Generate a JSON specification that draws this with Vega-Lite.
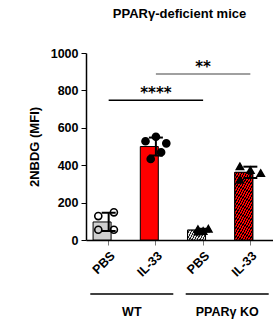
{
  "$schema": "https://vega.github.io/schema/vega-lite/v6.json",
  "padding": {"left": 28, "top": 8, "right": 0, "bottom": 0},
  "config": {
    "view": {"stroke": null},
    "font": "Liberation Sans",
    "axis": {"labelFont": "Liberation Sans", "labelFontWeight": "bold", "labelFontSize": 12.5, "labelColor": "black", "titleFont": "Liberation Sans", "titleFontWeight": "bold", "titleFontSize": 13, "titleColor": "black", "domainColor": "black", "domainWidth": 1.5, "tickColor": "black", "grid": false, "labelOverlap": false},
    "axisY": {"tickSize": 5, "labelPadding": 3, "titlePadding": 9, "values": [0, 200, 400, 600, 800, 1000], "format": "d"}
  },
  "datasets": {
    "pts": [
      {"group": "WT PBS", "geno": "WT", "slot": 1, "value": 128},
      {"group": "WT PBS", "geno": "WT", "slot": 4, "value": 148},
      {"group": "WT PBS", "geno": "WT", "slot": 1, "value": 55},
      {"group": "WT PBS", "geno": "WT", "slot": 4, "value": 55},
      {"group": "WT IL-33", "geno": "WT", "slot": 1, "value": 528},
      {"group": "WT IL-33", "geno": "WT", "slot": 3, "value": 552},
      {"group": "WT IL-33", "geno": "WT", "slot": 5, "value": 517},
      {"group": "WT IL-33", "geno": "WT", "slot": 2, "value": 433},
      {"group": "WT IL-33", "geno": "WT", "slot": 4, "value": 469},
      {"group": "KO PBS", "geno": "KO", "slot": 2, "value": 58},
      {"group": "KO PBS", "geno": "KO", "slot": 4, "value": 60},
      {"group": "KO PBS", "geno": "KO", "slot": 3, "value": 48},
      {"group": "KO PBS", "geno": "KO", "slot": 2, "value": 45},
      {"group": "KO IL-33", "geno": "KO", "slot": 1, "value": 394},
      {"group": "KO IL-33", "geno": "KO", "slot": 3, "value": 373},
      {"group": "KO IL-33", "geno": "KO", "slot": 5, "value": 358},
      {"group": "KO IL-33", "geno": "KO", "slot": 1, "value": 322}
    ],
    "sigLines": [
      {"pair": "****", "group": "WT PBS", "y": 747},
      {"pair": "****", "group": "KO PBS", "y": 747},
      {"pair": "**", "group": "WT IL-33", "y": 888},
      {"pair": "**", "group": "KO IL-33", "y": 888}
    ],
    "sigText": [
      {"label": "****", "group": "WT IL-33", "y": 747},
      {"label": "**", "group": "KO PBS", "y": 888}
    ],
    "groups": [
      {"geno": "WT"},
      {"geno": "PPARγ KO"}
    ]
  },
  "spacing": 9,
  "resolve": {"scale": {"x": "independent"}},
  "vconcat": [
    {
      "width": 187,
      "height": 187,
      "title": {"text": "PPARγ-deficient  mice", "fontSize": 13, "fontWeight": "bold", "font": "Liberation Sans", "color": "black", "anchor": "middle", "offset": 26},
      "resolve": {"scale": {"fill": "independent"}},
      "encoding": {
        "x": {"field": "group", "type": "nominal", "sort": null, "scale": {"domain": ["WT PBS", "WT IL-33", "KO PBS", "KO IL-33"], "paddingInner": 0.34, "paddingOuter": 0.15}, "axis": {"title": null, "labelAngle": -45, "labelExpr": "split(datum.label, ' ')[1]", "tickColor": "#777777", "tickSize": 5, "labelPadding": 4}}
      },
      "layer": [
        {
          "data": {"name": "pts"},
          "mark": {"type": "bar", "stroke": "black", "strokeWidth": 1},
          "encoding": {
            "y": {"aggregate": "mean", "field": "value", "type": "quantitative", "title": "2NBDG (MFI)", "scale": {"domain": [0, 1000], "nice": false}},
            "fill": {"field": "group", "type": "nominal", "scale": {"domain": ["WT PBS", "WT IL-33", "KO PBS", "KO IL-33"], "range": ["#d0d0d0", "#ff0000", "#d0d0d0", "#ff0000"]}, "legend": null}
          }
        },
        {
          "data": {"name": "pts"},
          "transform": [{"filter": "datum.group === 'KO PBS'"}],
          "mark": {"type": "bar", "stroke": "black", "strokeWidth": 1, "fill": {"gradient": "linear", "x1": 0, "y1": 0, "x2": 1.1966, "y2": 0.3785, "stops": [
            {"offset": 0, "color": "#e2e2e2"}, {"offset": 0.0611, "color": "#e2e2e2"}, {"offset": 0.0611, "color": "#222222"}, {"offset": 0.1111, "color": "#222222"},
            {"offset": 0.1111, "color": "#e2e2e2"}, {"offset": 0.1722, "color": "#e2e2e2"}, {"offset": 0.1722, "color": "#222222"}, {"offset": 0.2222, "color": "#222222"},
            {"offset": 0.2222, "color": "#e2e2e2"}, {"offset": 0.2833, "color": "#e2e2e2"}, {"offset": 0.2833, "color": "#222222"}, {"offset": 0.3333, "color": "#222222"},
            {"offset": 0.3333, "color": "#e2e2e2"}, {"offset": 0.3944, "color": "#e2e2e2"}, {"offset": 0.3944, "color": "#222222"}, {"offset": 0.4444, "color": "#222222"},
            {"offset": 0.4444, "color": "#e2e2e2"}, {"offset": 0.5056, "color": "#e2e2e2"}, {"offset": 0.5056, "color": "#222222"}, {"offset": 0.5556, "color": "#222222"},
            {"offset": 0.5556, "color": "#e2e2e2"}, {"offset": 0.6167, "color": "#e2e2e2"}, {"offset": 0.6167, "color": "#222222"}, {"offset": 0.6667, "color": "#222222"},
            {"offset": 0.6667, "color": "#e2e2e2"}, {"offset": 0.7278, "color": "#e2e2e2"}, {"offset": 0.7278, "color": "#222222"}, {"offset": 0.7778, "color": "#222222"},
            {"offset": 0.7778, "color": "#e2e2e2"}, {"offset": 0.8389, "color": "#e2e2e2"}, {"offset": 0.8389, "color": "#222222"}, {"offset": 0.8889, "color": "#222222"},
            {"offset": 0.8889, "color": "#e2e2e2"}, {"offset": 0.95, "color": "#e2e2e2"}, {"offset": 0.95, "color": "#222222"}, {"offset": 1, "color": "#222222"}
          ]}},
          "encoding": {
            "y": {"aggregate": "mean", "field": "value", "type": "quantitative", "title": "2NBDG (MFI)"}
          }
        },
        {
          "data": {"name": "pts"},
          "transform": [{"filter": "datum.group === 'KO IL-33'"}],
          "mark": {"type": "bar", "stroke": "black", "strokeWidth": 1, "fill": {"gradient": "linear", "x1": 0, "y1": 0, "x2": 0.5556, "y2": 1.2047, "stops": [
            {"offset": 0, "color": "#ff0000"}, {"offset": 0.025, "color": "#ff0000"}, {"offset": 0.025, "color": "#000000"}, {"offset": 0.0455, "color": "#000000"},
            {"offset": 0.0455, "color": "#ff0000"}, {"offset": 0.0705, "color": "#ff0000"}, {"offset": 0.0705, "color": "#000000"}, {"offset": 0.0909, "color": "#000000"},
            {"offset": 0.0909, "color": "#ff0000"}, {"offset": 0.1159, "color": "#ff0000"}, {"offset": 0.1159, "color": "#000000"}, {"offset": 0.1364, "color": "#000000"},
            {"offset": 0.1364, "color": "#ff0000"}, {"offset": 0.1614, "color": "#ff0000"}, {"offset": 0.1614, "color": "#000000"}, {"offset": 0.1818, "color": "#000000"},
            {"offset": 0.1818, "color": "#ff0000"}, {"offset": 0.2068, "color": "#ff0000"}, {"offset": 0.2068, "color": "#000000"}, {"offset": 0.2273, "color": "#000000"},
            {"offset": 0.2273, "color": "#ff0000"}, {"offset": 0.2523, "color": "#ff0000"}, {"offset": 0.2523, "color": "#000000"}, {"offset": 0.2727, "color": "#000000"},
            {"offset": 0.2727, "color": "#ff0000"}, {"offset": 0.2977, "color": "#ff0000"}, {"offset": 0.2977, "color": "#000000"}, {"offset": 0.3182, "color": "#000000"},
            {"offset": 0.3182, "color": "#ff0000"}, {"offset": 0.3432, "color": "#ff0000"}, {"offset": 0.3432, "color": "#000000"}, {"offset": 0.3636, "color": "#000000"},
            {"offset": 0.3636, "color": "#ff0000"}, {"offset": 0.3886, "color": "#ff0000"}, {"offset": 0.3886, "color": "#000000"}, {"offset": 0.4091, "color": "#000000"},
            {"offset": 0.4091, "color": "#ff0000"}, {"offset": 0.4341, "color": "#ff0000"}, {"offset": 0.4341, "color": "#000000"}, {"offset": 0.4545, "color": "#000000"},
            {"offset": 0.4545, "color": "#ff0000"}, {"offset": 0.4795, "color": "#ff0000"}, {"offset": 0.4795, "color": "#000000"}, {"offset": 0.5, "color": "#000000"},
            {"offset": 0.5, "color": "#ff0000"}, {"offset": 0.525, "color": "#ff0000"}, {"offset": 0.525, "color": "#000000"}, {"offset": 0.5455, "color": "#000000"},
            {"offset": 0.5455, "color": "#ff0000"}, {"offset": 0.5705, "color": "#ff0000"}, {"offset": 0.5705, "color": "#000000"}, {"offset": 0.5909, "color": "#000000"},
            {"offset": 0.5909, "color": "#ff0000"}, {"offset": 0.6159, "color": "#ff0000"}, {"offset": 0.6159, "color": "#000000"}, {"offset": 0.6364, "color": "#000000"},
            {"offset": 0.6364, "color": "#ff0000"}, {"offset": 0.6614, "color": "#ff0000"}, {"offset": 0.6614, "color": "#000000"}, {"offset": 0.6818, "color": "#000000"},
            {"offset": 0.6818, "color": "#ff0000"}, {"offset": 0.7068, "color": "#ff0000"}, {"offset": 0.7068, "color": "#000000"}, {"offset": 0.7273, "color": "#000000"},
            {"offset": 0.7273, "color": "#ff0000"}, {"offset": 0.7523, "color": "#ff0000"}, {"offset": 0.7523, "color": "#000000"}, {"offset": 0.7727, "color": "#000000"},
            {"offset": 0.7727, "color": "#ff0000"}, {"offset": 0.7977, "color": "#ff0000"}, {"offset": 0.7977, "color": "#000000"}, {"offset": 0.8182, "color": "#000000"},
            {"offset": 0.8182, "color": "#ff0000"}, {"offset": 0.8432, "color": "#ff0000"}, {"offset": 0.8432, "color": "#000000"}, {"offset": 0.8636, "color": "#000000"},
            {"offset": 0.8636, "color": "#ff0000"}, {"offset": 0.8886, "color": "#ff0000"}, {"offset": 0.8886, "color": "#000000"}, {"offset": 0.9091, "color": "#000000"},
            {"offset": 0.9091, "color": "#ff0000"}, {"offset": 0.9341, "color": "#ff0000"}, {"offset": 0.9341, "color": "#000000"}, {"offset": 0.9545, "color": "#000000"},
            {"offset": 0.9545, "color": "#ff0000"}, {"offset": 0.9795, "color": "#ff0000"}, {"offset": 0.9795, "color": "#000000"}, {"offset": 1, "color": "#000000"}
          ]}},
          "encoding": {
            "y": {"aggregate": "mean", "field": "value", "type": "quantitative", "title": "2NBDG (MFI)"}
          }
        },
        {
          "data": {"name": "pts"},
          "mark": {"type": "errorbar", "extent": "stdev", "color": "black", "thickness": 2, "ticks": {"size": 14, "thickness": 2, "color": "black", "opacity": 1}, "rule": {"strokeWidth": 2, "color": "black"}},
          "encoding": {
            "y": {"field": "value", "type": "quantitative", "title": "2NBDG (MFI)"}
          }
        },
        {
          "data": {"name": "pts"},
          "mark": {"type": "point", "filled": true, "stroke": "black", "strokeWidth": 1.6, "size": 50, "opacity": 1},
          "encoding": {
            "xOffset": {"field": "slot", "type": "quantitative", "scale": {"domain": [0, 6], "range": [0, 31.2]}},
            "y": {"field": "value", "type": "quantitative", "title": "2NBDG (MFI)"},
            "shape": {"field": "geno", "type": "nominal", "scale": {"domain": ["WT", "KO"], "range": ["circle", "triangle-up"]}, "legend": null},
            "fill": {"field": "group", "type": "nominal", "scale": {"domain": ["WT PBS", "WT IL-33", "KO PBS", "KO IL-33"], "range": ["transparent", "black", "black", "black"]}, "legend": null}
          }
        },
        {
          "data": {"name": "sigLines"},
          "mark": {"type": "line", "strokeWidth": 1.5},
          "encoding": {
            "y": {"field": "y", "type": "quantitative", "title": "2NBDG (MFI)"},
            "detail": {"field": "pair", "type": "nominal"},
            "stroke": {"field": "pair", "type": "nominal", "scale": {"domain": ["****", "**"], "range": ["#000000", "#808080"]}, "legend": null}
          }
        },
        {
          "data": {"name": "sigText"},
          "mark": {"type": "text", "font": "DejaVu Sans", "fontSize": 15, "fontWeight": "bold", "fill": "black", "color": "black", "dy": -2, "baseline": "alphabetic"},
          "encoding": {
            "y": {"field": "y", "type": "quantitative", "title": "2NBDG (MFI)"},
            "text": {"field": "label"}
          }
        }
      ]
    },
    {
      "width": 187,
      "height": 24,
      "data": {"name": "groups"},
      "encoding": {
        "x": {"field": "geno", "type": "nominal", "sort": null, "scale": {"domain": ["WT", "PPARγ KO"], "paddingInner": 0.1, "paddingOuter": 0.03}, "axis": null}
      },
      "layer": [
        {
          "mark": {"type": "tick", "orient": "horizontal", "size": 83, "thickness": 1.5, "color": "black", "opacity": 1},
          "encoding": {"y": {"datum": 0.75, "type": "quantitative", "scale": {"domain": [0, 1]}, "axis": null}}
        },
        {
          "mark": {"type": "text", "fontSize": 12.5, "fontWeight": "bold", "font": "Liberation Sans", "color": "black", "baseline": "middle"},
          "encoding": {"y": {"datum": 0, "type": "quantitative"}, "text": {"field": "geno"}}
        }
      ]
    }
  ]
}
